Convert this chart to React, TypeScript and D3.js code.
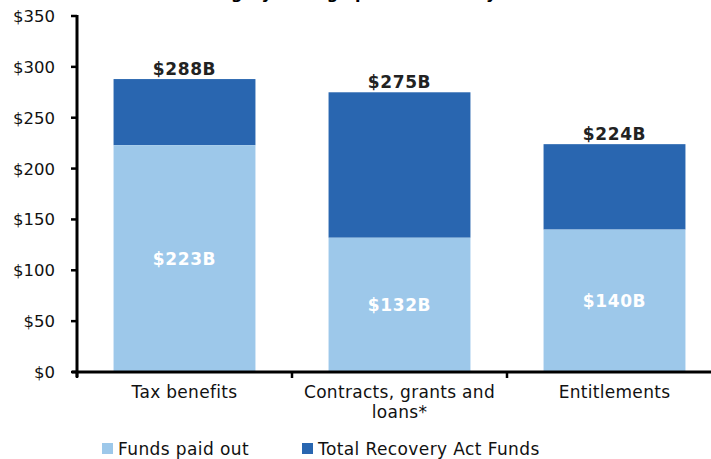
import React from "react";
import * as d3 from "d3";

const categories = ["Tax benefits", "Contracts, grants and loans*", "Entitlements"];
const categoryLines = [["Tax benefits"], ["Contracts, grants and", "loans*"], ["Entitlements"]];
const paidOut = [223, 132, 140];
const totalFunds = [288, 275, 224];
const yTicks = [0, 50, 100, 150, 200, 250, 300, 350];
const seriesNames = ["Funds paid out", "Total Recovery Act Funds"];
const titleText = "Category through paid out to May 2010";

const W = 711;
const H = 459;
const LIGHT = "#9DC8EA";
const DARK = "#2966B0";
const FONT = "Verdana, 'DejaVu Sans', sans-serif";
const FS = 17;
const LS = 0.3;

export default function App() {
  const x = d3.scaleBand<string>().domain(categories).range([77, 77 + 3 * 215]).paddingInner(0.34).paddingOuter(0.17);
  const y = d3.scaleLinear().domain([0, 350]).range([372, 16]);
  const bw = x.bandwidth();

  return (
    <svg width={W} height={H} style={{ position: "absolute", left: 0, top: 0 }} fontFamily={FONT}>
      <text x={190} y={-1} textAnchor="start" fontSize={16} fontWeight="bold" fill="#000">{titleText}</text>
      {categories.map((c, i) => (
        <g key={c}>
          <rect x={x(c)!} y={y(totalFunds[i])} width={bw} height={y(paidOut[i]) - y(totalFunds[i])} fill={DARK} />
          <rect x={x(c)!} y={y(paidOut[i])} width={bw} height={y(0) - y(paidOut[i])} fill={LIGHT} />
          <text x={x(c)! + bw / 2} y={y(totalFunds[i]) - 4} textAnchor="middle" fontSize={FS} letterSpacing={0.6} fontWeight="bold" fill="#222">
            ${totalFunds[i]}B
          </text>
          <text x={x(c)! + bw / 2} y={(y(0) + y(paidOut[i])) / 2 + 6} textAnchor="middle" fontSize={FS} letterSpacing={0.6} fontWeight="bold" fill="#fff">
            ${paidOut[i]}B
          </text>
          {categoryLines[i].map((ln, j) => (
            <text key={j} x={x(c)! + bw / 2} y={398 + j * 20} textAnchor="middle" fontSize={FS} letterSpacing={LS} fill="#111">{ln}</text>
          ))}
        </g>
      ))}
      {/* y axis */}
      <line x1={77} x2={77} y1={15} y2={377} stroke="#000" strokeWidth={3} />
      {yTicks.map((t) => (
        <g key={t}>
          <line x1={71} x2={77} y1={y(t)} y2={y(t)} stroke="#000" strokeWidth={2.5} />
          <text x={55} y={y(t) + 6} textAnchor="end" fontSize={16.5} fill="#111">${t}</text>
        </g>
      ))}
      {/* x axis */}
      <line x1={72} x2={W} y1={372} y2={372} stroke="#000" strokeWidth={3} />
      {[0, 1, 2].map((i) => (
        <line key={i} x1={77 + i * 215} x2={77 + i * 215} y1={372} y2={378} stroke="#000" strokeWidth={2.5} />
      ))}
      {/* legend */}
      {seriesNames.map((s, i) => (
        <g key={s}>
          <rect x={102 + i * 200} y={443} width={11} height={11} fill={i === 0 ? LIGHT : DARK} />
          <text x={118 + i * 200} y={455} fontSize={FS} letterSpacing={0.4} fill="#111">{s}</text>
        </g>
      ))}
    </svg>
  );
}
